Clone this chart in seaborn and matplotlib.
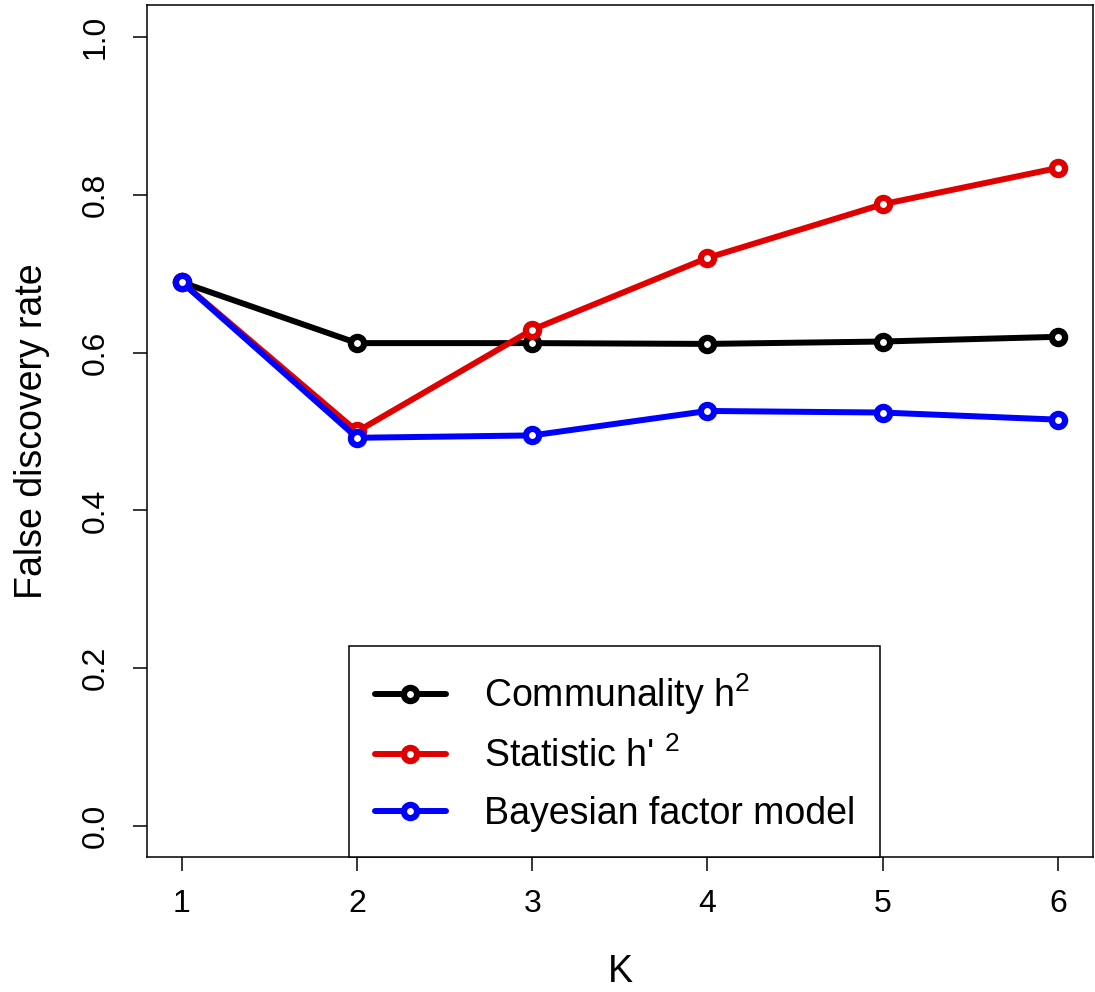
import matplotlib
matplotlib.use("Agg")
import matplotlib.pyplot as plt
import seaborn as sns
import pandas as pd

K = [1, 2, 3, 4, 5, 6]
communality = [0.689, 0.612, 0.612, 0.611, 0.614, 0.620]
statistic = [0.689, 0.500, 0.629, 0.720, 0.788, 0.834]
bayesian = [0.689, 0.492, 0.495, 0.526, 0.524, 0.515]

labels = ["Communality h$^2$", "Statistic h' $^2$", "Bayesian factor model"]
colors = ["black", "#e00000", "#0000ff"]
series = [communality, statistic, bayesian]

sns.set_style("ticks")
plt.rcParams["font.family"] = ["Liberation Sans", "DejaVu Sans"]
plt.rcParams["mathtext.default"] = "regular"
plt.rcParams["text.color"] = "black"
plt.rcParams["axes.labelcolor"] = "black"
plt.rcParams["xtick.color"] = "black"
plt.rcParams["ytick.color"] = "black"

fig = plt.figure(figsize=(10.95, 9.92), dpi=100)
ax = fig.add_axes([0.1342, 0.1356, 0.8638, 0.8589])

for vals, lab, col in zip(series, labels, colors):
    df = pd.DataFrame({"K": K, "FDR": vals})
    sns.lineplot(data=df, x="K", y="FDR", ax=ax, color=col, linewidth=4.3,
                 marker="o", markersize=9.5, markerfacecolor="white",
                 markeredgecolor=col, markeredgewidth=4.5, label=lab)

ax.set_xlim(0.8, 6.2)
ax.set_ylim(-0.04, 1.04)
ax.set_xticks(K)
ax.set_yticks([0.0, 0.2, 0.4, 0.6, 0.8, 1.0])
ax.set_yticklabels(["0.0", "0.2", "0.4", "0.6", "0.8", "1.0"], rotation=90, va="center")
ax.tick_params(axis="both", labelsize=23, length=10, width=1.1, direction="out",
               color="black", labelcolor="black")
ax.tick_params(axis="x", pad=13)
ax.tick_params(axis="y", pad=16)
for sp in ax.spines.values():
    sp.set_visible(True)
    sp.set_linewidth(1.1)
    sp.set_color("black")

ax.set_xlabel("K", fontsize=27)
ax.set_ylabel("False discovery rate", fontsize=27)
ax.xaxis.set_label_coords(0.5, -0.113)
ax.yaxis.set_label_coords(-0.103, 0.5)

leg = ax.legend(loc="lower center", bbox_to_anchor=(0.4947, 0.0), fontsize=27,
                frameon=True, fancybox=False, edgecolor="black", framealpha=1,
                borderaxespad=0, handlelength=1.9, handletextpad=1.0,
                labelspacing=0.55, borderpad=0.68)
leg.get_frame().set_linewidth(1.1)
for t in leg.get_texts():
    t.set_color("black")

fig.savefig("out.png", dpi=100)
